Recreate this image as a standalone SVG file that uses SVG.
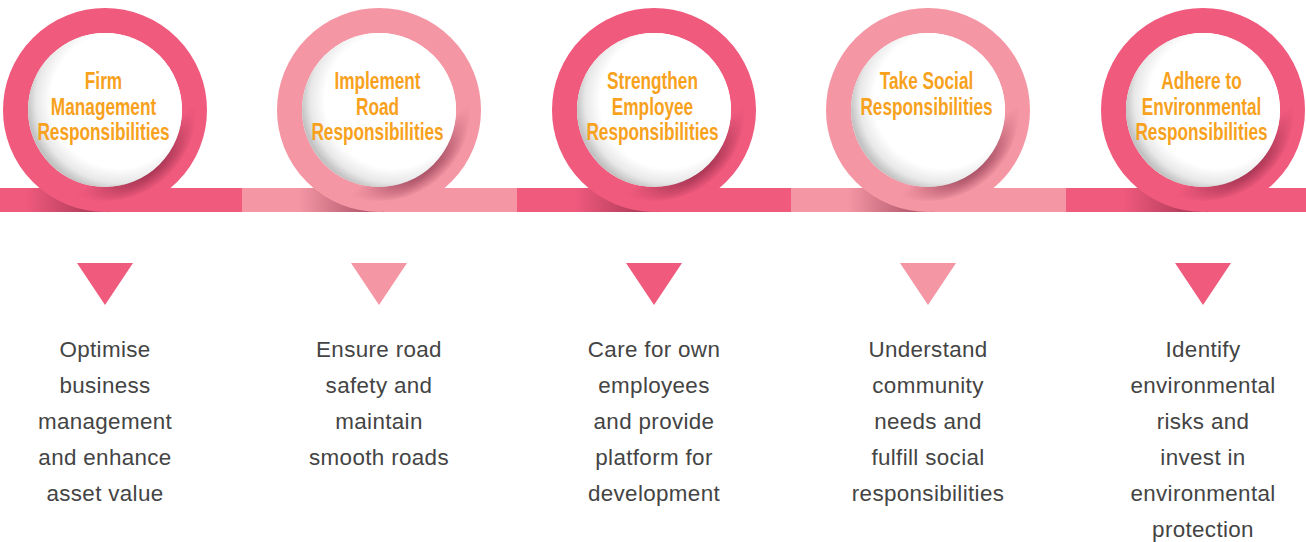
<svg xmlns="http://www.w3.org/2000/svg" width="1306" height="542" viewBox="0 0 1306 542">
  <defs>
    <style>
      .dark { fill: #F05A7D; }
      .light { fill: #F496A4; }
      .ringD { fill: none; stroke: #F05A7D; stroke-width: 25; }
      .ringL { fill: none; stroke: #F496A4; stroke-width: 25; }
      .inner { fill: url(#innerFill); }
      .shade { fill: none; stroke: url(#ringShade); stroke-width: 14; mask: url(#brMask); }
      .barShadow { fill: url(#barShade); }
      .title { font-family: "Liberation Sans", Arial, sans-serif; font-weight: bold; font-size: 23px; fill: #F7A11D; text-anchor: middle; }
      .desc { font-family: "Liberation Sans", Arial, sans-serif; font-size: 22.4px; letter-spacing: 0.35px; fill: #444444; text-anchor: middle; }
    </style>
    <radialGradient id="innerFill" gradientUnits="userSpaceOnUse" cx="14" cy="-10" r="92">
      <stop offset="0.74" stop-color="#ffffff"/>
      <stop offset="0.9" stop-color="#e8e8e8"/>
      <stop offset="1" stop-color="#c2c2c2"/>
    </radialGradient>
    <radialGradient id="ringShade" gradientUnits="userSpaceOnUse" cx="0" cy="0" r="102">
      <stop offset="0.75" stop-color="#6e1a34" stop-opacity="0.6"/>
      <stop offset="0.9" stop-color="#6e1a34" stop-opacity="0"/>
    </radialGradient>
    <linearGradient id="maskLin" gradientUnits="userSpaceOnUse" x1="30" y1="40" x2="48" y2="64">
      <stop offset="0" stop-color="#000"/>
      <stop offset="1" stop-color="#fff"/>
    </linearGradient>
    <mask id="brMask" maskUnits="userSpaceOnUse" x="-110" y="-110" width="220" height="220">
      <rect x="-110" y="-110" width="220" height="220" fill="url(#maskLin)"/>
    </mask>
    <linearGradient id="barShade" gradientUnits="userSpaceOnUse" x1="-80" y1="0" x2="-5" y2="0">
      <stop offset="0" stop-color="#6e1a34" stop-opacity="0"/>
      <stop offset="1" stop-color="#6e1a34" stop-opacity="0.55"/>
    </linearGradient>
  </defs>

  <rect width="1306" height="542" fill="#ffffff"/>

  <g id="connectors">
    <rect class="dark" x="0" y="188" width="242" height="24"/>
    <rect class="light" x="242" y="188" width="275" height="24"/>
    <rect class="dark" x="517" y="188" width="274" height="24"/>
    <rect class="light" x="791" y="188" width="275" height="24"/>
    <rect class="dark" x="1066" y="188" width="240" height="24"/>
  </g>

  <g id="node1" transform="translate(105,110)">
    <rect class="barShadow" x="-80" y="78" width="85" height="24"/>
    <circle class="ringD" r="89.5"/>
    <circle class="inner" r="77"/>
    <circle class="shade" r="84"/>
    <g transform="translate(-1.5,0) scale(0.75,1)">
      <text class="title" x="0" y="-21">Firm</text>
      <text class="title" x="0" y="4.5">Management</text>
      <text class="title" x="0" y="30.5">Responsibilities</text>
    </g>
    <polygon class="dark" points="-28,153 28,153 0,195"/>
    <text class="desc" x="0" y="247">Optimise</text>
    <text class="desc" x="0" y="283">business</text>
    <text class="desc" x="0" y="319">management</text>
    <text class="desc" x="0" y="355">and enhance</text>
    <text class="desc" x="0" y="391">asset value</text>
  </g>

  <g id="node2" transform="translate(379,110)">
    <rect class="barShadow" x="-80" y="78" width="85" height="24"/>
    <circle class="ringL" r="89.5"/>
    <circle class="inner" r="77"/>
    <circle class="shade" r="84"/>
    <g transform="translate(-1.5,0) scale(0.75,1)">
      <text class="title" x="0" y="-21">Implement</text>
      <text class="title" x="0" y="4.5">Road</text>
      <text class="title" x="0" y="30.5">Responsibilities</text>
    </g>
    <polygon class="light" points="-28,153 28,153 0,195"/>
    <text class="desc" x="0" y="247">Ensure road</text>
    <text class="desc" x="0" y="283">safety and</text>
    <text class="desc" x="0" y="319">maintain</text>
    <text class="desc" x="0" y="355">smooth roads</text>
  </g>

  <g id="node3" transform="translate(654,110)">
    <rect class="barShadow" x="-80" y="78" width="85" height="24"/>
    <circle class="ringD" r="89.5"/>
    <circle class="inner" r="77"/>
    <circle class="shade" r="84"/>
    <g transform="translate(-1.5,0) scale(0.75,1)">
      <text class="title" x="0" y="-21">Strengthen</text>
      <text class="title" x="0" y="4.5">Employee</text>
      <text class="title" x="0" y="30.5">Responsibilities</text>
    </g>
    <polygon class="dark" points="-28,153 28,153 0,195"/>
    <text class="desc" x="0" y="247">Care for own</text>
    <text class="desc" x="0" y="283">employees</text>
    <text class="desc" x="0" y="319">and provide</text>
    <text class="desc" x="0" y="355">platform for</text>
    <text class="desc" x="0" y="391">development</text>
  </g>

  <g id="node4" transform="translate(928,110)">
    <rect class="barShadow" x="-80" y="78" width="85" height="24"/>
    <circle class="ringL" r="89.5"/>
    <circle class="inner" r="77"/>
    <circle class="shade" r="84"/>
    <g transform="translate(-1.5,0) scale(0.75,1)">
      <text class="title" x="0" y="-21">Take Social</text>
      <text class="title" x="0" y="4.5">Responsibilities</text>
    </g>
    <polygon class="light" points="-28,153 28,153 0,195"/>
    <text class="desc" x="0" y="247">Understand</text>
    <text class="desc" x="0" y="283">community</text>
    <text class="desc" x="0" y="319">needs and</text>
    <text class="desc" x="0" y="355">fulfill social</text>
    <text class="desc" x="0" y="391">responsibilities</text>
  </g>

  <g id="node5" transform="translate(1203,110)">
    <rect class="barShadow" x="-80" y="78" width="85" height="24"/>
    <circle class="ringD" r="89.5"/>
    <circle class="inner" r="77"/>
    <circle class="shade" r="84"/>
    <g transform="translate(-1.5,0) scale(0.75,1)">
      <text class="title" x="0" y="-21">Adhere to</text>
      <text class="title" x="0" y="4.5">Environmental</text>
      <text class="title" x="0" y="30.5">Responsibilities</text>
    </g>
    <polygon class="dark" points="-28,153 28,153 0,195"/>
    <text class="desc" x="0" y="247">Identify</text>
    <text class="desc" x="0" y="283">environmental</text>
    <text class="desc" x="0" y="319">risks and</text>
    <text class="desc" x="0" y="355">invest in</text>
    <text class="desc" x="0" y="391">environmental</text>
    <text class="desc" x="0" y="427">protection</text>
  </g>
</svg>
